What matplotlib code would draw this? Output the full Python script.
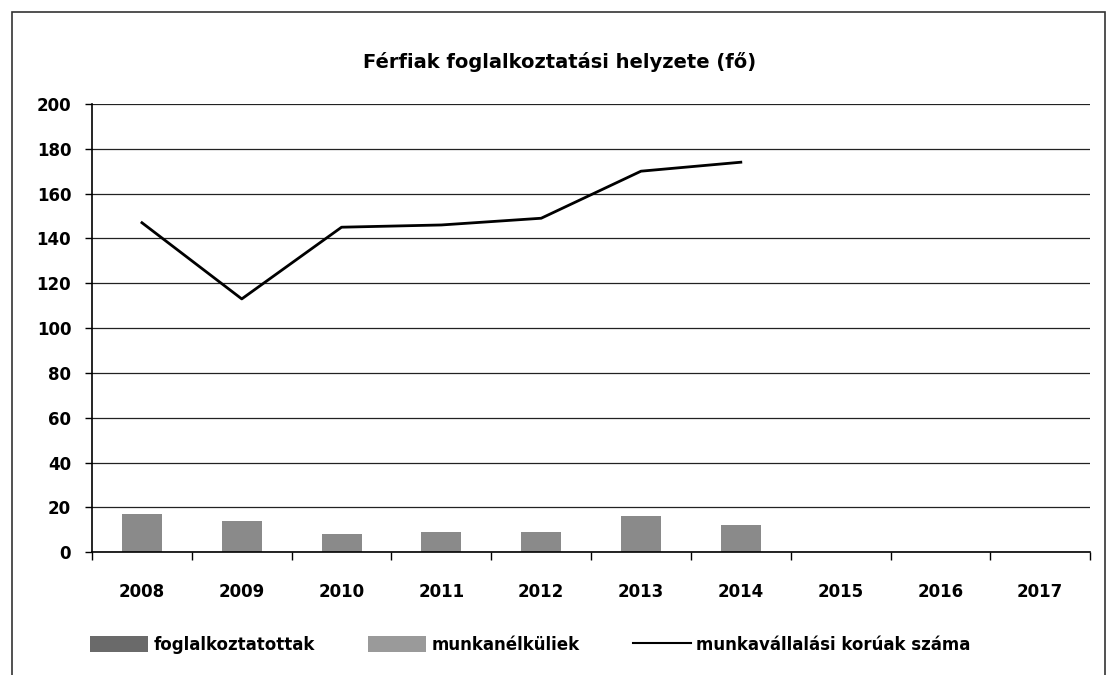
import numpy as np
import matplotlib
matplotlib.use('Agg')
from matplotlib import pyplot as plt
from matplotlib.patches import Rectangle, Patch
from matplotlib.lines import Line2D

years = ['2008', '2009', '2010', '2011', '2012', '2013', '2014', '2015', '2016', '2017']
foglalkoztatottak = [np.nan] * 10
munkanelkuliek = [17, 14, 8, 9, 9, 16, 12, np.nan, np.nan, np.nan]
munkavallalasi_koruak = [147, 113, 145, 146, 149, 170, 174, np.nan, np.nan, np.nan]

plt.rcParams['font.family'] = ['DejaVu Sans']

fig = plt.figure(figsize=(11.09, 6.75), dpi=100)
ax = fig.add_axes([0.083, 0.182, 0.900, 0.664])

x = np.arange(len(years))
ax.bar(x, foglalkoztatottak, width=0.4, color='#6a6a6a', zorder=2)
ax.bar(x, munkanelkuliek, width=0.4, color='#8a8a8a', zorder=2)
ax.plot(x, munkavallalasi_koruak, color='black', linewidth=2, zorder=3)

# Format plot
ax.set_xlim(-0.5, len(years) - 0.5)
ax.set_ylim(0, 200)
ax.set_yticks(range(0, 201, 20))
ax.tick_params(axis='y', direction='out', length=5, width=1, labelsize=12, pad=10)
for lab in ax.get_yticklabels():
    lab.set_fontweight('bold')
ax.yaxis.grid(True, color='#222222', linewidth=0.9)
ax.set_axisbelow(True)

ax.set_xticks(x)
ax.set_xticklabels(years, fontsize=12, fontweight='bold')
ax.set_xticks(np.arange(-0.5, len(years)), minor=True)
ax.tick_params(axis='x', which='major', length=0, pad=22)
ax.tick_params(axis='x', which='minor', direction='out', length=6, width=1)

for s in ['top', 'right']:
    ax.spines[s].set_visible(False)
ax.spines['left'].set_linewidth(1.2)
ax.spines['bottom'].set_linewidth(1.2)

fig.text(0.505, 0.908, 'Férfiak foglalkoztatási helyzete (fő)', ha='center', va='center',
         fontsize=14, fontweight='bold')

handles = [Patch(facecolor='#6a6a6a'), Patch(facecolor='#9a9a9a'),
           Line2D([0], [0], color='black', linewidth=1.5)]
labels = ['foglalkoztatottak', 'munkanélküliek', 'munkavállalási korúak száma']
fig.legend(handles, labels, loc='center', bbox_to_anchor=(0.478, 0.045), ncol=3, frameon=False,
           prop={'size': 12, 'weight': 'bold'}, handlelength=3.5, handleheight=1.1,
           columnspacing=3.2, handletextpad=0.3)

# chart frame
fig.add_artist(Rectangle((0.011, -0.05), 0.985, 1.032, transform=fig.transFigure,
                         fill=False, edgecolor='#333333', linewidth=1.2))

fig.savefig('out.png', dpi=100)
